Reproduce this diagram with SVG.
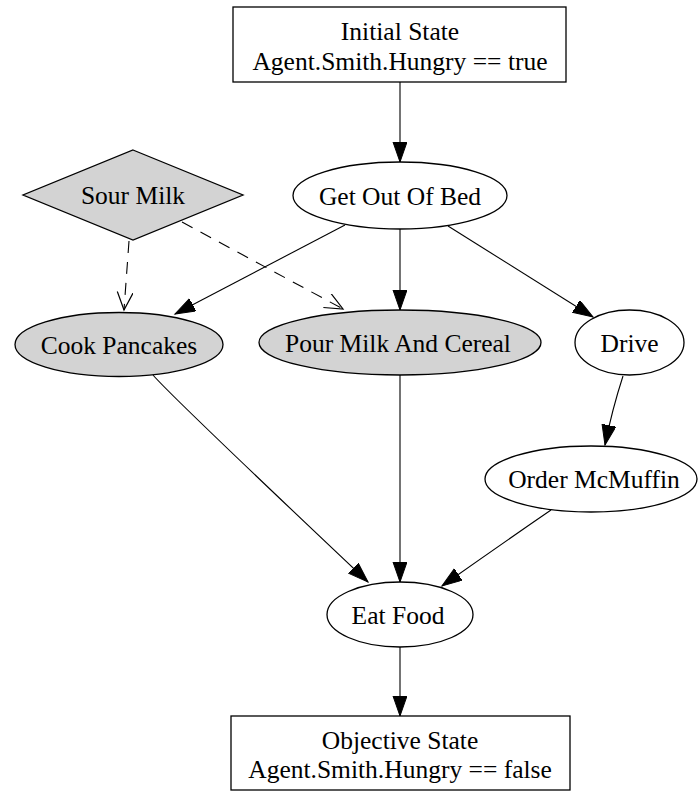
<svg xmlns="http://www.w3.org/2000/svg" width="699" height="791" viewBox="0 0 699 791">
  <style>
    .shape { stroke: #000; stroke-width: 1.3; }
    .plain { fill: #fff; }
    .grey { fill: #d3d3d3; }
    .label { font-family: "Liberation Serif", "Times New Roman", serif; font-size: 25.5px; fill: #000; text-anchor: middle; }
    .edge { fill: none; stroke: #000; stroke-width: 1.1; }
    .solid { marker-end: url(#arrow); }
    .dashed { stroke-dasharray: 12 9; marker-end: url(#vee); }
  </style>
  <defs>
    <!-- filled triangular arrowhead for precedence links -->
    <marker id="arrow" markerUnits="userSpaceOnUse" markerWidth="22" markerHeight="16" refX="20" refY="7" orient="auto">
      <path d="M0,0 L20,7 L0,14 Z" fill="#000" stroke="#000" stroke-width="1"/>
    </marker>
    <!-- open V arrowhead for the dashed conflict links -->
    <marker id="vee" markerUnits="userSpaceOnUse" markerWidth="22" markerHeight="20" refX="18" refY="8" orient="auto">
      <path d="M0,0 L18,8 L0,16" fill="none" stroke="#000" stroke-width="1.2" stroke-dasharray="none"/>
    </marker>
  </defs>

  <rect width="699" height="791" fill="#fff"/>

  <g id="connectors">
    <path class="edge solid" d="M400,82 L400,162"/>
    <path class="edge solid" d="M345,225 L175,314"/>
    <path class="edge solid" d="M400,229 L400,310"/>
    <path class="edge solid" d="M448,226 L593,317"/>
    <path class="edge dashed" d="M129,241 L124,310"/>
    <path class="edge dashed" d="M182,222 L343,309"/>
    <path class="edge solid" d="M153,375 Q170,395 368,582"/>
    <path class="edge solid" d="M400,375 L400,582"/>
    <path class="edge solid" d="M623,376 Q612,410 605,445"/>
    <path class="edge solid" d="M551,510 Q500,545 442,586"/>
    <path class="edge solid" d="M400,647 L400,716"/>
  </g>

  <g id="initial-state">
    <rect class="shape plain" x="233" y="7" width="333" height="75"/>
    <text class="label" x="400" y="40">Initial State</text>
    <text class="label" x="400" y="70">Agent.Smith.Hungry == true</text>
  </g>

  <g id="get-out-of-bed">
    <ellipse class="shape plain" cx="400" cy="195.5" rx="107" ry="33.5"/>
    <text class="label" x="400" y="204.5">Get Out Of Bed</text>
  </g>

  <g id="sour-milk">
    <polygon class="shape grey" points="133,150 243,195 133,240 23,195"/>
    <text class="label" x="133" y="204">Sour Milk</text>
  </g>

  <g id="cook-pancakes">
    <ellipse class="shape grey" cx="119" cy="344.5" rx="104" ry="32"/>
    <text class="label" x="119" y="353.5">Cook Pancakes</text>
  </g>

  <g id="pour-milk-and-cereal">
    <ellipse class="shape grey" cx="400" cy="342.5" rx="141" ry="32.5"/>
    <text class="label" x="398" y="351.5">Pour Milk And Cereal</text>
  </g>

  <g id="drive">
    <ellipse class="shape plain" cx="629.5" cy="342.5" rx="54.5" ry="32.5"/>
    <text class="label" x="629.5" y="351.5">Drive</text>
  </g>

  <g id="order-mcmuffin">
    <ellipse class="shape plain" cx="591" cy="479" rx="106" ry="33"/>
    <text class="label" x="594" y="488">Order McMuffin</text>
  </g>

  <g id="eat-food">
    <ellipse class="shape plain" cx="400" cy="614.5" rx="73" ry="32.5"/>
    <text class="label" x="398" y="624">Eat Food</text>
  </g>

  <g id="objective-state">
    <rect class="shape plain" x="231" y="716" width="339" height="74"/>
    <text class="label" x="400" y="749">Objective State</text>
    <text class="label" x="400" y="778">Agent.Smith.Hungry == false</text>
  </g>
</svg>
